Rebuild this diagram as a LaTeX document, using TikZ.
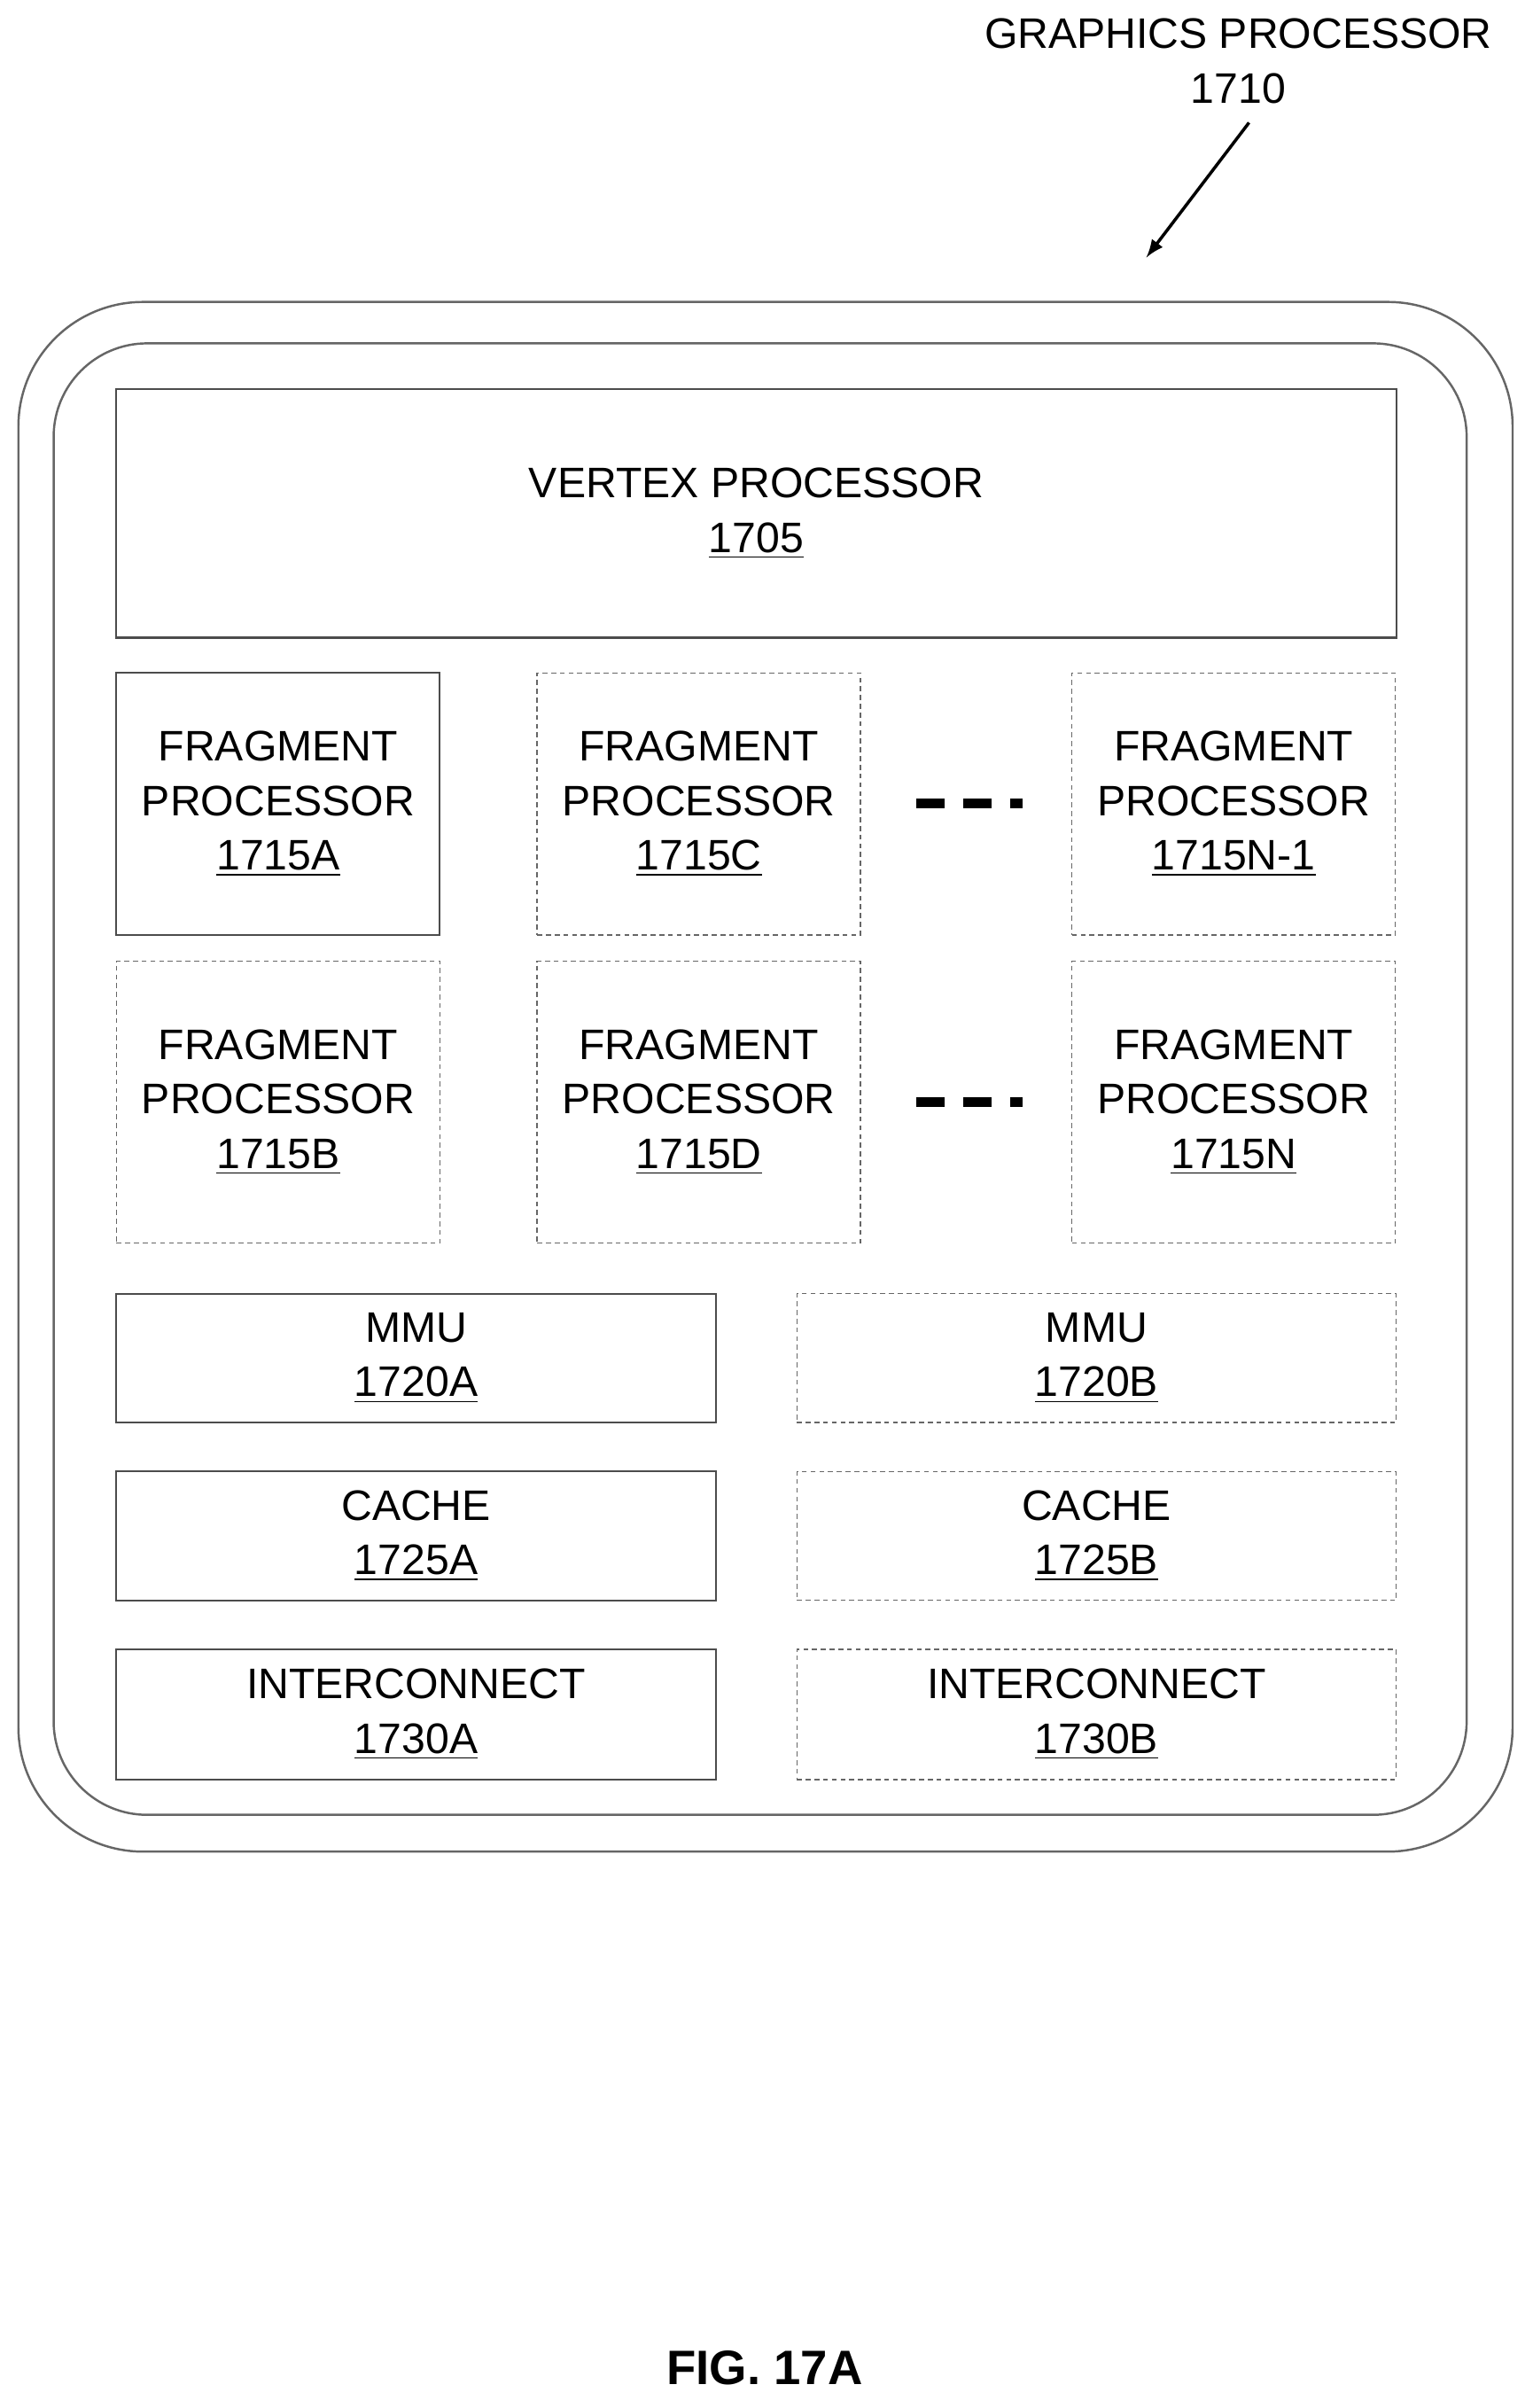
\documentclass[tikz,border=0pt]{standalone}
\usepackage{fontspec}
\setmainfont{Liberation Sans}
\usetikzlibrary{positioning}
\tikzset{
  blk/.style={draw=black!70, line width=0.6pt, inner sep=0pt, align=center,
    font=\fontsize{13.7}{17.5}\selectfont},
  dblk/.style={blk, draw=black!60, line width=0.4pt, dash pattern=on 1.6pt off 1.2pt},
  dots/.style={line width=3pt, dash pattern=on 9pt off 6pt}
}
\newcommand{\ul}[1]{\underline{#1}}
\begin{document}
\begin{tikzpicture}[x=0.01729cm,y=-0.01729cm]
\useasboundingbox (0,0) rectangle (1000,1571);
% outer shells
\draw [black!60, line width=0.7pt, rounded corners=40] (12,197) rectangle (987,1208);
\draw [black!60, line width=0.7pt, rounded corners=30] (35,224) rectangle (957,1184);
% vertex processor
\node [blk, minimum width=835*0.01729cm, minimum height=162*0.01729cm] (vp) at (493.5,335) {VERTEX PROCESSOR\\\ul{1705}};
% fragment processors
\foreach \n/\x/\y/\h/\s in {a/181.5/524.5/171/blk, c/456/524.5/171/dblk, n1/805/524.5/171/dblk,
                            b/181.5/719/184/dblk, d/456/719/184/dblk, n/805/719/184/dblk}
  \node [\s, minimum width=211*0.01729cm, minimum height=\h*0.01729cm] (fp\n) at (\x,\y) {};
\node [font=\fontsize{13.7}{17.5}\selectfont, align=center] at (fpa) {FRAGMENT\\PROCESSOR\\\ul{1715A}};
\node [font=\fontsize{13.7}{17.5}\selectfont, align=center] at (fpc) {FRAGMENT\\PROCESSOR\\\ul{1715C}};
\node [font=\fontsize{13.7}{17.5}\selectfont, align=center] at (fpn1) {FRAGMENT\\PROCESSOR\\\ul{1715N-1}};
\node [font=\fontsize{13.7}{17.5}\selectfont, align=center] at (fpb) {FRAGMENT\\PROCESSOR\\\ul{1715B}};
\node [font=\fontsize{13.7}{17.5}\selectfont, align=center] at (fpd) {FRAGMENT\\PROCESSOR\\\ul{1715D}};
\node [font=\fontsize{13.7}{17.5}\selectfont, align=center] at (fpn) {FRAGMENT\\PROCESSOR\\\ul{1715N}};
\draw [dots] (598,524) -- (667,524);
\draw [dots] (598,719) -- (667,719);
% mmu, cache, interconnect
\node [blk, minimum width=391*0.01729cm, minimum height=84*0.01729cm] (mmua) at (271.5,886) {MMU\\\ul{1720A}};
\node [dblk, minimum width=391*0.01729cm, minimum height=84*0.01729cm] (mmub) at (715.5,886) {MMU\\\ul{1720B}};
\node [blk, minimum width=391*0.01729cm, minimum height=84*0.01729cm] (cachea) at (271.5,1002) {CACHE\\\ul{1725A}};
\node [dblk, minimum width=391*0.01729cm, minimum height=84*0.01729cm] (cacheb) at (715.5,1002) {CACHE\\\ul{1725B}};
\node [blk, minimum width=391*0.01729cm, minimum height=85*0.01729cm] (ica) at (271.5,1118.5) {INTERCONNECT\\\ul{1730A}};
\node [dblk, minimum width=391*0.01729cm, minimum height=85*0.01729cm] (icb) at (715.5,1118.5) {INTERCONNECT\\\ul{1730B}};
% label and arrow
\node [font=\fontsize{13.7}{17.5}\selectfont, align=center] (gp) at (808,40) {GRAPHICS PROCESSOR\\1710};
\coordinate (gpend) at (748,168);
\draw [-latex, line width=1pt] (815,80) -- (gpend);
\node [font=\bfseries\fontsize{15.5}{18}\selectfont] (fig) at (499,1545) {FIG. 17A};
\end{tikzpicture}
\end{document}
